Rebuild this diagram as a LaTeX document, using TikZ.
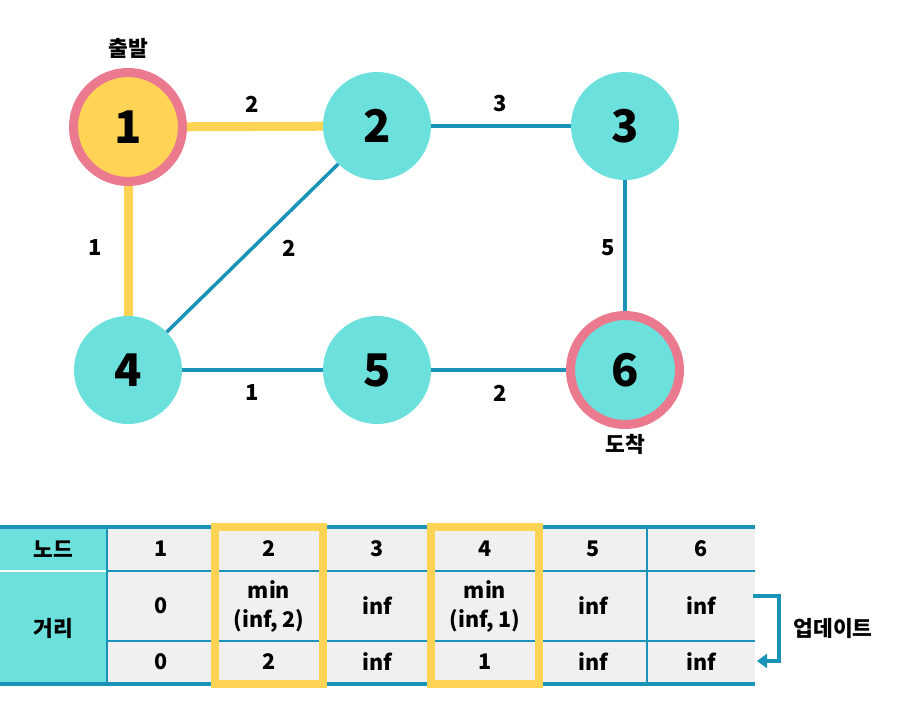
\documentclass[tikz,border=0pt]{standalone}
\usepackage{fontspec}
\setmainfont{Noto Sans CJK KR}
\usetikzlibrary{arrows.meta}
\definecolor{nodeteal}{HTML}{6CE0DC}
\definecolor{ringpink}{HTML}{EC7A8F}
\definecolor{pathyellow}{HTML}{FFD454}
\definecolor{edgeblue}{HTML}{1993B8}
\definecolor{cellgray}{HTML}{F0F0F0}
\tikzset{
  vertex/.style={circle, inner sep=0pt, minimum size=108pt, fill=nodeteal,
    font=\fontsize{45}{45}\selectfont\bfseries},
  endpoint/.style={vertex, draw=ringpink, line width=9pt, minimum size=109pt},
  pathedge/.style={draw=pathyellow, line width=9pt},
  plainedge/.style={draw=edgeblue, line width=3.5pt},
  weight/.style={font=\fontsize{22}{22}\selectfont\bfseries},
  tag/.style={font=\fontsize{21.5}{22}\selectfont\bfseries},
  celltext/.style={font=\fontsize{21.5}{29}\selectfont\bfseries, align=center},
  thinrule/.style={draw=edgeblue, line width=1.5pt},
  thickrule/.style={draw=edgeblue, line width=4pt},
  highlight/.style={draw=pathyellow, line width=8pt},
}
\begin{document}
\begin{tikzpicture}[x=1pt,y=-1pt]
\useasboundingbox (0,0) rectangle (897,702);

% graph vertices
\node[endpoint, fill=pathyellow] (n1) at (128,127) {1};
\node[vertex] (n2) at (377,126) {2};
\node[vertex] (n3) at (625,126) {3};
\node[vertex] (n4) at (128,370) {4};
\node[vertex] (n5) at (377,370) {5};
\node[endpoint] (n6) at (625,370) {6};

% edges
\draw[pathedge] (n1) -- (n2);
\draw[pathedge] (n1) -- (n4);
\draw[plainedge] (n2) -- (n3);
\draw[plainedge] (n2) -- (n4);
\draw[plainedge] (n3) -- (n6);
\draw[plainedge] (n4) -- (n5);
\draw[plainedge] (n5) -- (n6);

% edge weights
\node[weight] (w12) at (252,104) {2};
\node[weight] (w23) at (500,104) {3};
\node[weight] (w14) at (95,248) {1};
\node[weight] (w24) at (289,248) {2};
\node[weight] (w36) at (608,248) {5};
\node[weight] (w45) at (252,393) {1};
\node[weight] (w56) at (500,393) {2};

% start / goal labels
\node[tag] (start) at (128,48) {출발};
\node[tag] (goal) at (625,444) {도착};

% distance table
\fill[cellgray] (107,527) rectangle (755,684);
\fill[nodeteal] (0,527) rectangle (107,684);
\draw[thinrule] (107,571) -- (755,571);
\draw[thinrule] (107,641) -- (755,641);
\draw[white, line width=1.5pt] (0,571) -- (107,571);
\foreach \x in {107,215,323,431,539,647} \draw[thinrule] (\x,527) -- (\x,684);
\draw[thickrule] (0,527) -- (755,527);
\draw[thickrule] (0,684) -- (755,684);
\draw[highlight] (215,527) rectangle (323,684);
\draw[highlight] (431,527) rectangle (539,684);

\node[celltext] (hnode) at (53,549) {노드};
\node[celltext] (hdist) at (53,628) {거리};
\foreach \i/\x in {1/161,2/269,3/377,4/485,5/593,6/701}
  \node[celltext] (h\i) at (\x,549) {\i};
\node[celltext] (a1) at (161,606) {0};
\node[celltext] (a2) at (269,606) {min\\(inf, 2)};
\node[celltext] (a3) at (377,606) {inf};
\node[celltext] (a4) at (485,606) {min\\(inf, 1)};
\node[celltext] (a5) at (593,606) {inf};
\node[celltext] (a6) at (701,606) {inf};
\node[celltext] (b1) at (161,662) {0};
\node[celltext] (b2) at (269,662) {2};
\node[celltext] (b3) at (377,662) {inf};
\node[celltext] (b4) at (485,662) {1};
\node[celltext] (b5) at (593,662) {inf};
\node[celltext] (b6) at (701,662) {inf};

% update arrow
\coordinate (upfrom) at (753,596);
\coordinate (upto) at (757,661);
\draw[edgeblue, line width=4pt, -{Triangle[length=10pt,width=14pt]}]
  (upfrom) -- (779,596) -- (779,661) -- (upto);
\node[tag] (update) at (833,628) {업데이트};
\end{tikzpicture}
\end{document}
